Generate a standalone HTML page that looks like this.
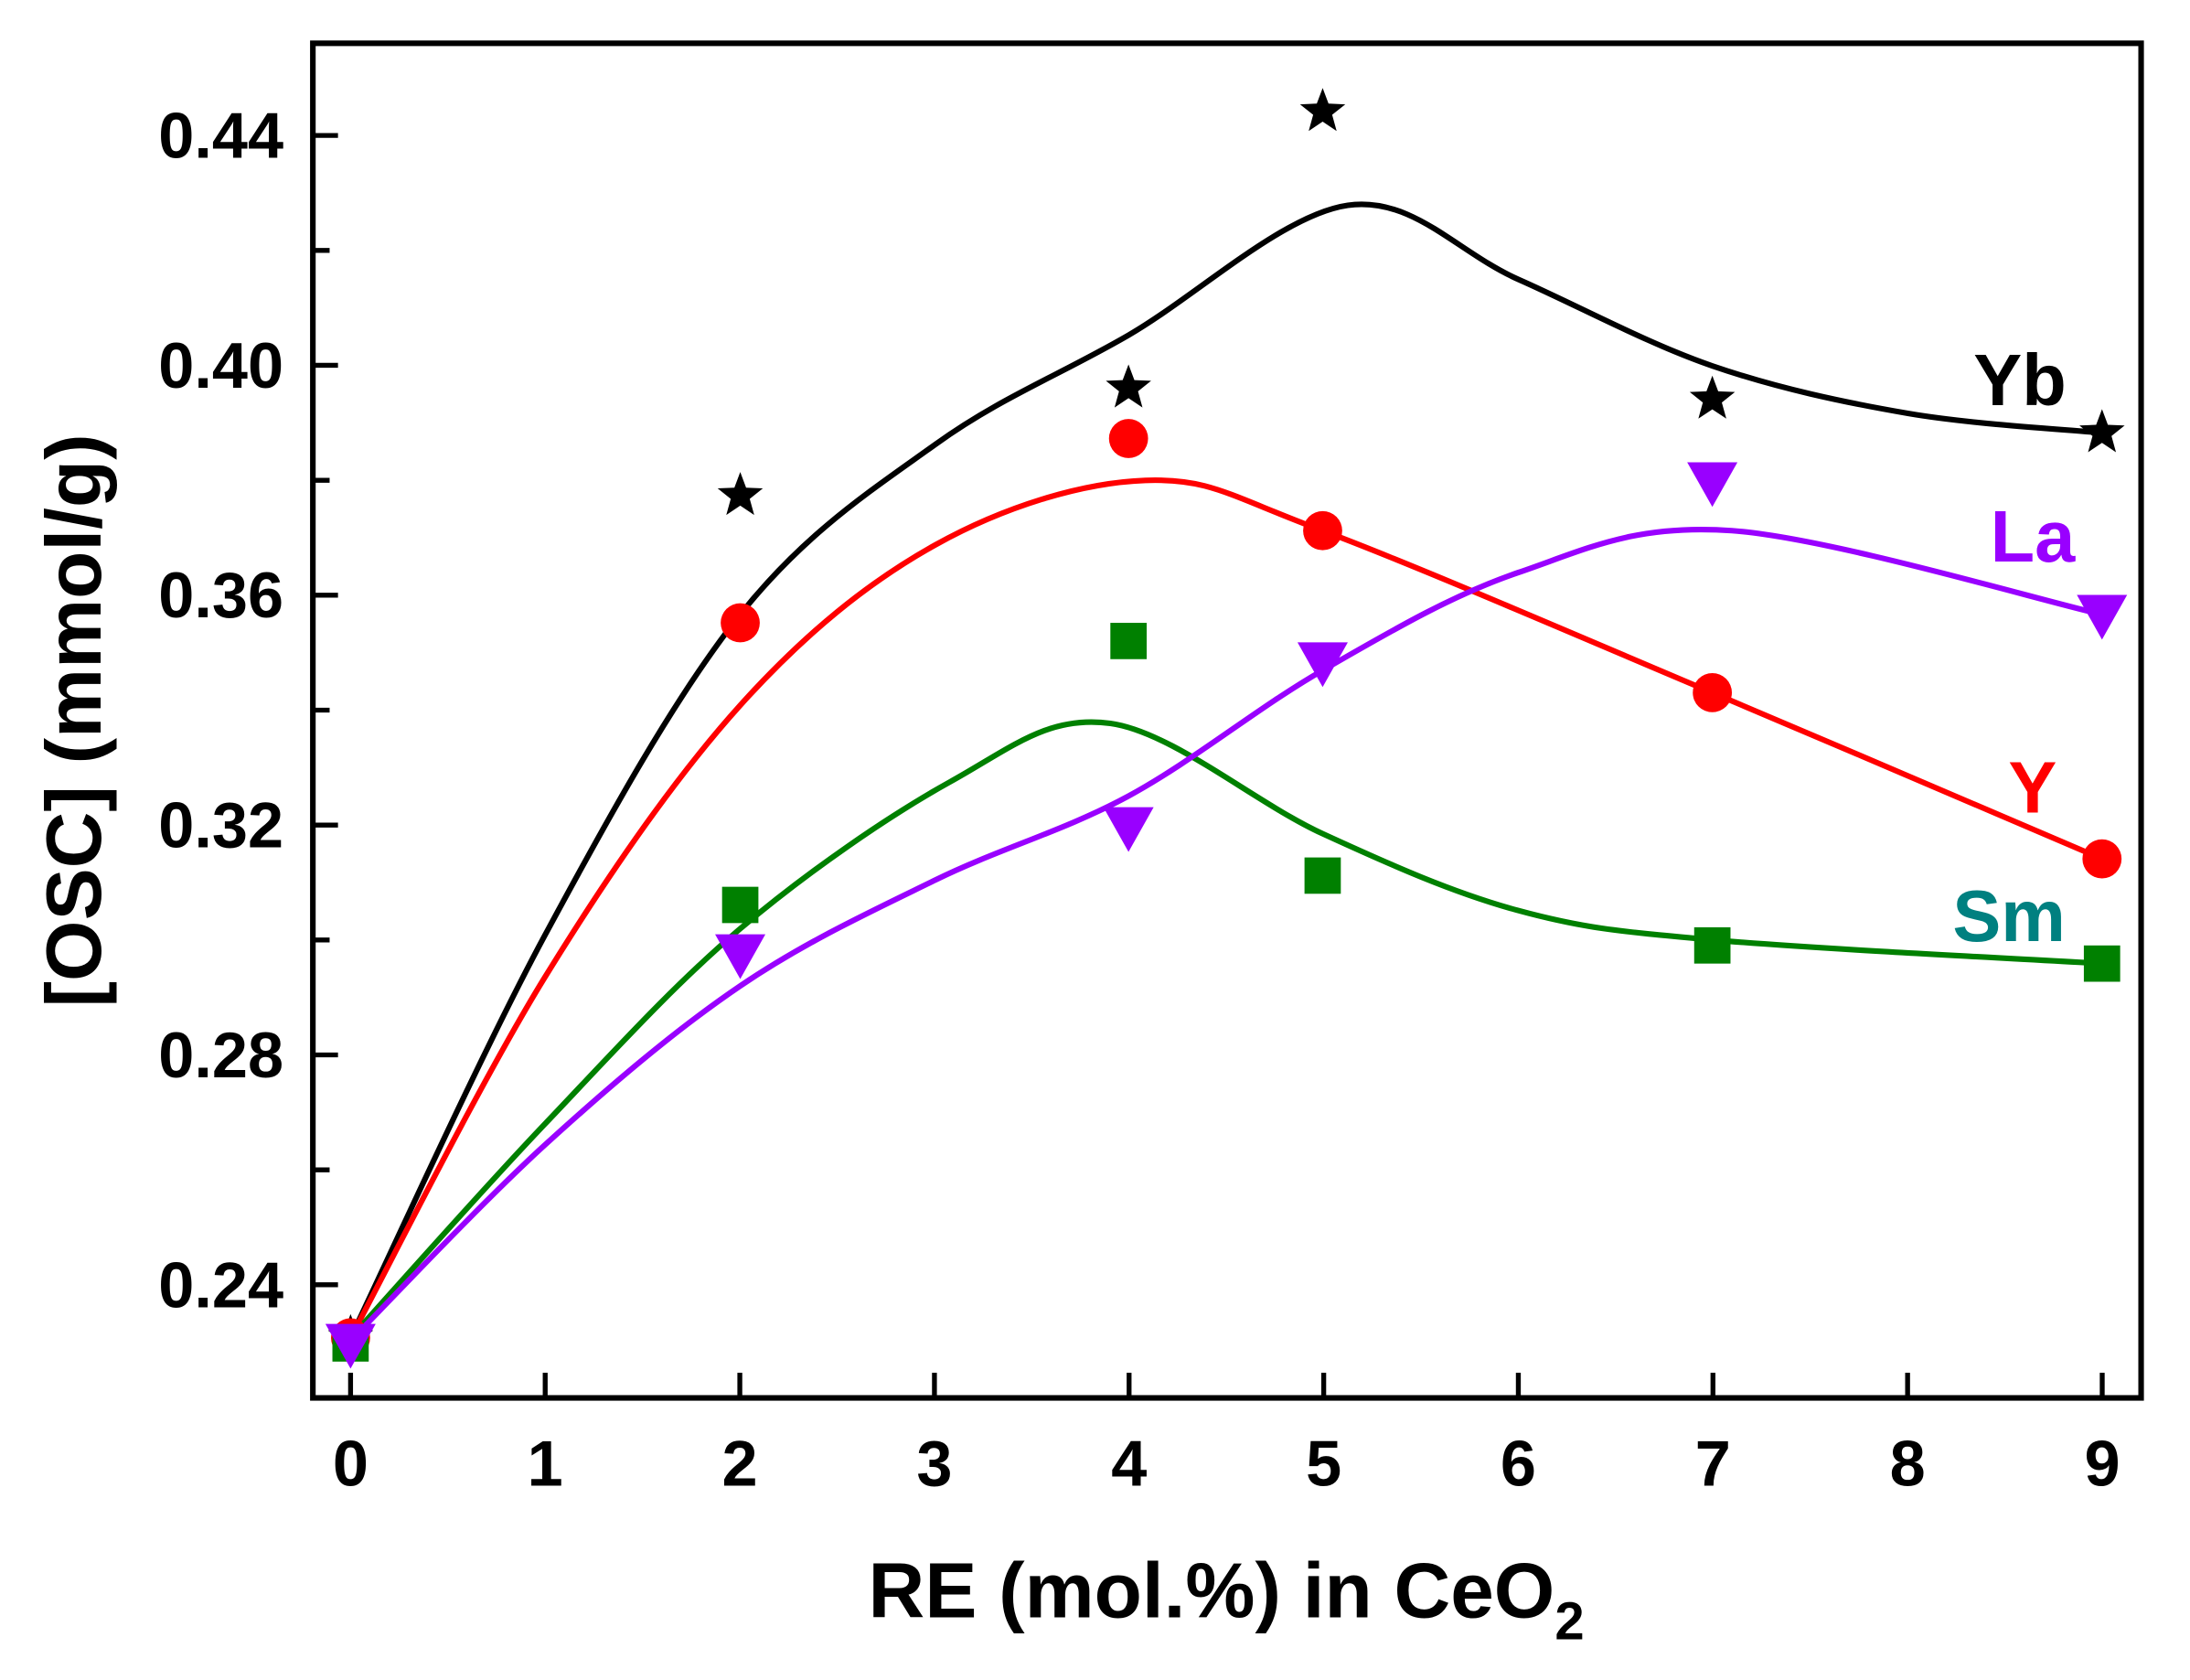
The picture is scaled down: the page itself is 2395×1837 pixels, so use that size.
<!DOCTYPE html>
<html><head><style>html,body{margin:0;padding:0;background:#fff}svg{display:block}</style></head>
<body>
<svg id="s" width="2395" height="1837" viewBox="0 0 1568 1203" preserveAspectRatio="none" xmlns="http://www.w3.org/2000/svg" font-family="Liberation Sans, sans-serif" font-weight="bold">
<rect x="224" y="31" width="1309" height="970" fill="none" stroke="#000" stroke-width="4"/>
<g stroke="#000" stroke-width="3.5" id="ticks"></g>
<g font-size="46" text-anchor="middle" id="xl"></g>
<g font-size="46" text-anchor="end" id="yl"></g>
<text x="878" y="1158" font-size="56" text-anchor="middle">RE (mol.%) in CeO<tspan font-size="38" dy="16">2</tspan></text>
<text transform="translate(72,516) rotate(-90)" font-size="56" text-anchor="middle">[OSC] (mmol/g)</text>
<g id="curves" fill="none" stroke-width="4"></g>
<g id="marks"></g>
<g font-size="52">
<text x="1413" y="290" fill="#000">Yb</text>
<text x="1425" y="402" fill="#9900ff">La</text>
<text x="1438" y="582" fill="#ff0000">Y</text>
<text x="1398" y="674" fill="#008080">Sm</text>
</g>
</svg>
<script>
const NS="http://www.w3.org/2000/svg";
function el(p,t,a,txt){const e=document.createElementNS(NS,t);for(const k in a)e.setAttribute(k,a[k]);if(txt!==undefined)e.textContent=txt;document.getElementById(p).appendChild(e);return e;}
const X=v=>251+139.35*v, Y=o=>920-4115*(o-0.24);
for(let i=0;i<=9;i++){el("ticks","line",{x1:X(i),x2:X(i),y1:1001,y2:983});el("xl","text",{x:X(i),y:1064},String(i));}
for(let k=0;k<=12;k++){const o=0.22+k*0.02;const y=Y(o);if(y<35||y>998)continue;const maj=Math.round(o*100)%4===0;el("ticks","line",{x1:224,x2:maj?242:236,y1:y,y2:y});if(maj)el("yl","text",{x:203,y:y+16},o.toFixed(2));}
function cr(pts){let d="M"+pts[0];for(let i=0;i<pts.length-1;i++){const p0=pts[i-1]||pts[i],p1=pts[i],p2=pts[i+1],p3=pts[i+2]||p2;const c1=[p1[0]+(p2[0]-p0[0])/6,p1[1]+(p2[1]-p0[1])/6],c2=[p2[0]-(p3[0]-p1[0])/6,p2[1]-(p3[1]-p1[1])/6];d+=" C"+c1+" "+c2+" "+p2;}return d;}
const curves=[
["#000",[[251,958],[390,670],[530,440],[670,318],[808,240],[965,147],[1087,200],[1226,262],[1366,296],[1505,310]]],
["#ff0000",[[251,958],[390,700],[530,505],[670,390],[820,344],[947,380],[1226,496],[1505,615]]],
["#008000",[[251,958],[390,805],[530,665],[680,560],[795,518],[947,597],[1087,652],[1226,673],[1505,690]]],
["#9900ff",[[251,960],[390,820],[530,706],[670,630],[808,570],[947,480],[1087,410],[1240,380],[1505,440]]]];
curves.forEach(c=>el("curves","path",{d:cr(c[1]),stroke:c[0]}));
function star(cx,cy,r){let p=[];for(let i=0;i<10;i++){const a=-Math.PI/2+i*Math.PI/5,rr=i%2?r*0.42:r;p.push((cx+rr*Math.cos(a)).toFixed(1)+","+(cy+rr*Math.sin(a)).toFixed(1));}return p.join(" ");}
[[251,958],[530,355],[808,278],[947,80],[1226,286],[1505,310]].forEach(p=>el("marks","polygon",{points:star(p[0],p[1],17),fill:"#000"}));
[[251,958],[530,446],[808,314],[947,380],[1226,496],[1505,615]].forEach(p=>el("marks","circle",{cx:p[0],cy:p[1],r:14,fill:"#ff0000"}));
[[251,962],[530,648],[808,459],[947,627],[1226,677],[1505,690]].forEach(p=>el("marks","rect",{x:p[0]-13,y:p[1]-13,width:26,height:26,fill:"#008000"}));
[[251,962],[530,683],[808,592],[947,474],[1226,345],[1505,440]].forEach(p=>el("marks","polygon",{points:`${p[0]-18},${p[1]-14} ${p[0]+18},${p[1]-14} ${p[0]},${p[1]+18}`,fill:"#9900ff"}));
</script>
</body></html>
